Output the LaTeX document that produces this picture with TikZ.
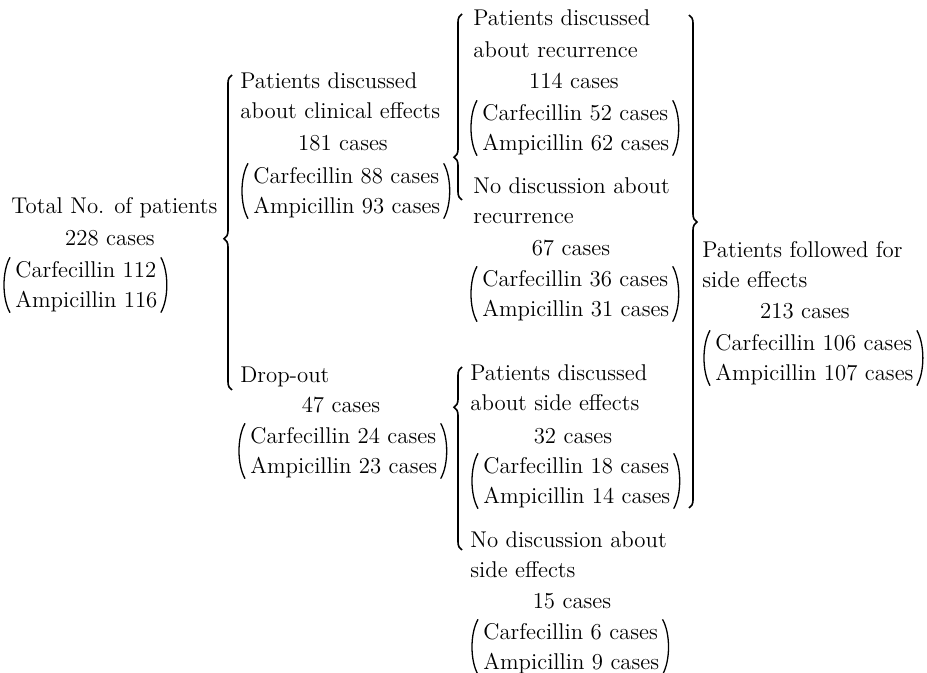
\documentclass[tikz,border=0pt]{standalone}
\usepackage{tikz}
\usetikzlibrary{decorations.pathreplacing}

% round brackets around a two-line node
\newcommand{\parens}[1]{%
  \draw[paren] ([xshift=-2.5pt,yshift=2pt]#1.north west) .. controls +(-4pt,-7pt) and +(-4pt,7pt) .. ([xshift=-2.5pt]#1.south west);
  \draw[paren] ([xshift=1.5pt,yshift=2pt]#1.north east) .. controls +(4pt,-7pt) and +(4pt,7pt) .. ([xshift=1.5pt]#1.south east);
}

\begin{document}
\begin{tikzpicture}[
    x=0.5pt, y=-0.5pt,
    font=\fontsize{11.4}{15}\selectfont,
    txt/.style={anchor=west, inner sep=0pt, text height=8pt, text depth=2.5pt},
    cnt/.style={anchor=center, inner sep=0pt, text height=8pt, text depth=2.5pt},
    drug/.style={anchor=west, align=left, inner sep=0pt},
    paren/.style={line width=0.65pt},
    brc/.style={decorate, decoration={brace, amplitude=4pt, aspect=#1}, line width=0.8pt}
  ]
  \useasboundingbox (0,0) rectangle (927,673);

  % total
  \node[txt] (totT) at (11,208) {Total No. of patients};
  \node[cnt] (totN) at (110,240) {228 cases};
  \node[drug] (totD) at (15,287) {Carfecillin 112\\Ampicillin 116};
  \parens{totD}

  % clinical effects
  \node[txt] (clinA) at (240,83) {Patients discussed};
  \node[txt] (clinB) at (240,113) {about clinical effects};
  \node[cnt] (clinN) at (343,145) {181 cases};
  \node[drug] (clinD) at (253,193) {Carfecillin 88 cases\\Ampicillin 93 cases};
  \parens{clinD}

  % drop-out
  \node[txt] (dropA) at (240,377) {Drop-out};
  \node[cnt] (dropN) at (341,407) {47 cases};
  \node[drug] (dropD) at (250,453) {Carfecillin 24 cases\\Ampicillin 23 cases};
  \parens{dropD}

  % recurrence
  \node[txt] (recA) at (473,20) {Patients discussed};
  \node[txt] (recB) at (473,52) {about recurrence};
  \node[cnt] (recN) at (574,83) {114 cases};
  \node[drug] (recD) at (482,130) {Carfecillin 52 cases\\Ampicillin 62 cases};
  \parens{recD}

  \node[txt] (norecA) at (473,188) {No discussion about};
  \node[txt] (norecB) at (473,218) {recurrence};
  \node[cnt] (norecN) at (571,250) {67 cases};
  \node[drug] (norecD) at (482,296) {Carfecillin 36 cases\\Ampicillin 31 cases};
  \parens{norecD}

  % side effects
  \node[txt] (sideA) at (470,375) {Patients discussed};
  \node[txt] (sideB) at (470,405) {about side effects};
  \node[cnt] (sideN) at (573,438) {32 cases};
  \node[drug] (sideD) at (483,483) {Carfecillin 18 cases\\Ampicillin 14 cases};
  \parens{sideD}

  \node[txt] (nosideA) at (470,542) {No discussion about};
  \node[txt] (nosideB) at (470,572) {side effects};
  \node[cnt] (nosideN) at (572,603) {15 cases};
  \node[drug] (nosideD) at (483,649) {Carfecillin 6 cases\\Ampicillin 9 cases};
  \parens{nosideD}

  % followed
  \node[txt] (folA) at (702,252) {Patients followed for};
  \node[txt] (folB) at (702,282) {side effects};
  \node[cnt] (folN) at (805,313) {213 cases};
  \node[drug] (folD) at (715,360) {Carfecillin 106 cases\\Ampicillin 107 cases};
  \parens{folD}

  % braces
  \draw[brc=0.48] (232,390) -- (232,75);
  \draw[brc=0.23] (462,200) -- (462,14);
  \draw[brc=0.78] (462,550) -- (462,367);
  \draw[brc=0.42] (689,15) -- (689,508);
\end{tikzpicture}
\end{document}
